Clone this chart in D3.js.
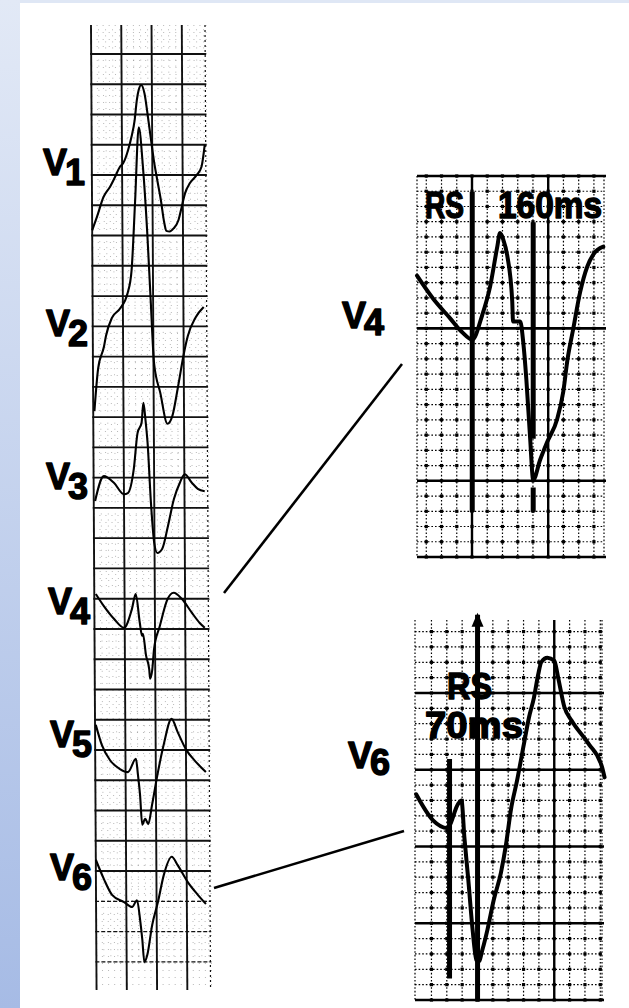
<!DOCTYPE html>
<html>
<head>
<meta charset="utf-8">
<script src="https://cdn.jsdelivr.net/npm/d3@7"></script>
<style>
  html, body { margin: 0; padding: 0; background: #fff; }
  svg { display: block; }
</style>
</head>
<body>
<svg id="chart" width="629" height="1008"></svg>
<script>
// ---- data: time in ms, amplitude in mV ----
const leadNames = ["V1", "V2", "V3", "V4", "V5", "V6"];

const traceV1 = [[0,-0.50],[32,-0.28],[76,0.05],[120,0.22],[153,0.38],[186,0.55],[208,0.61],[241,0.83],[263,1.04],[285,1.32],[300,1.65],[313,1.82],[329,1.90],[351,1.76],[373,1.37],[395,0.94],[410,0.66],[432,0.33],[455,0.00],[477,-0.38],[490,-0.51],[512,-0.52],[538,-0.47],[571,-0.33],[593,-0.11],[615,0.11],[648,0.28],[692,0.41],[725,0.55],[747,0.91]];
const traceV2 = [[8,-1.24],[34,-0.54],[74,-0.17],[87,0],[127,0.30],[180,0.45],[232,0.71],[259,1.09],[285,2.24],[312,3.45],[338,2.79],[364,1.70],[384,0.59],[404,-0.45],[444,-0.94],[490,-1.45],[523,-1.32],[562,-0.83],[602,-0.28],[628,0],[681,0.31],[734,0.48]];
const traceV3 = [[9,-0.18],[68,0.23],[134,0.12],[200,-0.07],[226,-0.05],[266,0.35],[292,0.94],[319,1.11],[332,1.44],[345,1.16],[358,0.78],[378,-0.21],[398,-0.87],[418,-1.04],[451,-0.97],[490,-0.59],[530,-0.15],[570,0.12],[602,0.26],[649,0.12],[688,0.02],[734,-0.02]];
const traceV4 = [[10,0.10],[63,-0.10],[129,-0.31],[195,-0.46],[248,-0.15],[274,0.10],[300,-0.38],[314,-0.59],[320,-0.56],[340,-0.92],[360,-1.14],[366,-1.30],[380,-1.16],[393,-0.81],[432,-0.43],[485,0.02],[525,0.12],[578,0.02],[644,-0.21],[696,-0.38],[729,-0.46]];
const traceV5 = [[5,0.58],[44,0.25],[97,0],[163,-0.15],[216,-0.20],[269,0.02],[282,-0.25],[295,-0.58],[308,-1.07],[328,-0.97],[348,-1.06],[374,-0.74],[414,-0.20],[453,0.25],[506,0.68],[546,0.46],[599,0.18],[665,-0.03],[731,-0.20]];
const traceV6 = [[0,0.50],[53,0.18],[106,-0.08],[185,-0.20],[238,-0.28],[271,-0.17],[290,-0.48],[304,-0.81],[317,-1.19],[337,-1.07],[370,-0.58],[409,-0.20],[449,0.25],[502,0.55],[541,0.41],[607,0.13],[673,-0.08],[726,-0.23]];

// magnified beats
const zoomV4 = [[0,0.35],[42,0.20],[87,0.07],[118,-0.02],[145,-0.07],[171,0.09],[192,0.28],[210,0.53],[218,0.63],[226,0.59],[237,0.48],[250,0.18],[252,0.05],[263,0.05],[271,0.05],[279,-0.09],[287,-0.33],[297,-0.72],[305,-0.99],[323,-0.86],[342,-0.74],[368,-0.59],[384,-0.41],[395,-0.20],[410,0],[428,0.24],[447,0.41],[463,0.49],[489,0.54]];
const zoomV6 = [[3,0.35],[47,0.18],[84,0.13],[113,0.29],[121,0.31],[129,0.06],[139,-0.21],[150,-0.53],[160,-0.73],[166,-0.74],[176,-0.66],[189,-0.53],[205,-0.34],[224,-0.16],[237,0.02],[250,0.25],[266,0.44],[284,0.68],[297,0.85],[310,0.98],[321,1.13],[329,1.21],[345,1.24],[363,1.22],[373,1.11],[389,0.92],[408,0.83],[452,0.68],[487,0.53],[494,0.46]];

// R-S interval markers: [time ms, top mV, bottom mV]
const rsMarksV4 = [[145, 0.90, -1.20], [305, 0.70, -0.72], [305, -1.04, -1.20]];
const rsMarksV6 = [[90, 0.58, -0.85], [163, 1.52, -1.00]];
const rsTextV4 = ["RS", "160ms"];
const rsTextV6 = ["RS", "70ms"];

// ---- layout ----
const svg = d3.select("#chart");
const W = 629, H = 1008;
const FONT = "'Liberation Sans', Arial, Helvetica, sans-serif";

const defs = svg.append("defs");
const grad = defs.append("linearGradient").attr("id", "edge")
  .attr("x1", 0).attr("y1", 0).attr("x2", 0).attr("y2", 1);
grad.append("stop").attr("offset", "0%").attr("stop-color", "#e2e9f6");
grad.append("stop").attr("offset", "100%").attr("stop-color", "#a6bbe5");

svg.append("rect").attr("width", W).attr("height", H).attr("fill", "#fff");
svg.append("rect").attr("width", W).attr("height", 3).attr("fill", "#dfe7f5");
svg.append("rect").attr("width", 20).attr("height", H).attr("fill", "url(#edge)");

// ---- left strip ----
const box = 30.26;
const stripTop = 25, stripBottom = 990, stripLeft = 91, stripRight = 206;
const baselines = [200, 336, 490, 600, 760, 890];
const traces = [traceV1, traceV2, traceV3, traceV4, traceV5, traceV6];

// the paper strip leans slightly to the right
const strip = svg.append("g")
  .attr("transform", `translate(0,${stripTop}) skewX(0.33) translate(0,${-stripTop})`);

const xL = d3.scaleLinear().domain([0, 200]).range([stripLeft, stripLeft + box]);

const gridL = strip.append("g");
// minor dotted lines
const minorXs = d3.range(stripLeft + box / 5, stripRight, box / 5);
gridL.selectAll(".mvx").data(minorXs).join("line")
  .attr("x1", d => d).attr("x2", d => d).attr("y1", stripTop).attr("y2", stripBottom)
  .attr("stroke", "#000").attr("stroke-width", 0.9).attr("stroke-dasharray", "1,6")
  .attr("opacity", 0.3);
const minorYs = d3.range(54 - box, 965, box / 5).filter(y => y > stripTop);
gridL.selectAll(".mhy").data(minorYs).join("line")
  .attr("x1", stripLeft).attr("x2", stripRight).attr("y1", d => d).attr("y2", d => d)
  .attr("stroke", "#000").attr("stroke-width", 0.9).attr("stroke-dasharray", "1,6")
  .attr("opacity", 0.3);
// major lines
const majorYs = d3.range(54, 965, box);
gridL.selectAll(".hy").data(majorYs).join("line")
  .attr("x1", stripLeft - 1).attr("x2", stripRight).attr("y1", d => d).attr("y2", d => d)
  .attr("stroke", "#111").attr("stroke-width", d => d > 900 ? 1.3 : 1.9)
  .attr("stroke-dasharray", d => d > 900 ? "4,2" : null);
const majorXs = d3.range(0, 4).map(i => stripLeft + i * box);
gridL.selectAll(".vx").data(majorXs).join("line")
  .attr("x1", d => d).attr("x2", d => d).attr("y1", stripTop).attr("y2", stripBottom)
  .attr("stroke", "#111").attr("stroke-width", 1.9);
gridL.append("line")
  .attr("x1", stripRight - 1).attr("x2", stripRight - 1).attr("y1", stripTop).attr("y2", stripBottom)
  .attr("stroke", "#111").attr("stroke-width", 1.2).attr("stroke-dasharray", "2,3");

traces.forEach((tr, i) => {
  const y = d3.scaleLinear().domain([0, 0.5]).range([baselines[i], baselines[i] - box]);
  const line = d3.line().x(d => xL(d[0])).y(d => y(d[1])).curve(d3.curveMonotoneX);
  strip.append("path").datum(tr).attr("d", line)
    .attr("fill", "none").attr("stroke", "#000").attr("stroke-width", 2.1)
    .attr("stroke-linejoin", "round");
});

// lead labels (heavy print face)
const leftLabelPos = [[43, 175], [46, 336], [46, 489], [48, 614], [50, 747], [50, 880]];
function leadLabel(name, pos, drop) {
  const t = svg.append("text").attr("x", pos[0]).attr("y", pos[1])
    .attr("font-family", FONT).attr("font-weight", "bold").attr("font-size", 36)
    .attr("fill", "#000").attr("stroke", "#000").attr("stroke-width", 1.4)
    .attr("stroke-linejoin", "round");
  t.append("tspan").text(name[0]);
  t.append("tspan").attr("dx", -2).attr("dy", drop).text(name.slice(1));
}
leadNames.forEach((n, i) => leadLabel(n, leftLabelPos[i], 10));

// ---- magnified panels ----
function panel(cfg) {
  const g = svg.append("g");
  const s = cfg.step;
  const xs = d3.range(cfg.vRef - s * 10, cfg.x1 + 0.5, s).filter(x => x >= cfg.x0 + 4);
  const ys = d3.range(cfg.hRef - s * 30, cfg.y1 + 0.5, s).filter(y => y >= cfg.y0 - 0.5);
  const isMajX = x => Math.abs(((x - cfg.vRef) / s) % 5) < 0.01;
  const isMajY = y => Math.abs(((y - cfg.hRef) / s) % 5) < 0.01;

  // minor dotted lines
  g.selectAll(".mx").data(xs.filter(x => !isMajX(x)).concat([cfg.x0, cfg.x1])).join("line")
    .attr("x1", d => d).attr("x2", d => d).attr("y1", cfg.y0).attr("y2", cfg.y1)
    .attr("stroke", "#000").attr("stroke-width", 1.2).attr("stroke-dasharray", "1.6,2");
  g.selectAll(".my").data(ys.filter(y => !isMajY(y))).join("line")
    .attr("x1", cfg.x0).attr("x2", cfg.x1).attr("y1", d => d).attr("y2", d => d)
    .attr("stroke", "#000").attr("stroke-width", 1.2).attr("stroke-dasharray", "1.6,2");
  // dots at crossings
  const dots = [];
  xs.forEach(x => ys.forEach(y => dots.push([x, y])));
  g.selectAll(".dot").data(dots).join("rect")
    .attr("x", d => d[0] - 1.6).attr("y", d => d[1] - 1.6)
    .attr("width", 3.2).attr("height", 3.2).attr("fill", "#000");
  // major lines
  g.selectAll(".Mx").data(xs.filter(isMajX)).join("line")
    .attr("x1", d => d).attr("x2", d => d).attr("y1", cfg.y0).attr("y2", cfg.y1)
    .attr("stroke", "#000").attr("stroke-width", 2.4);
  g.selectAll(".My").data(ys.filter(isMajY).filter(y => y > cfg.y0 + 2 || cfg.topBorder)).join("line")
    .attr("x1", cfg.x0).attr("x2", cfg.x1 + 2).attr("y1", d => d).attr("y2", d => d)
    .attr("stroke", "#000").attr("stroke-width", 2.6);
  return g;
}

function drawBeat(cfg, data, marks, texts, textPos) {
  const x = d3.scaleLinear().domain([0, 200]).range([cfg.x0, cfg.x0 + cfg.step * 5]);
  const y = d3.scaleLinear().domain([0, 0.5]).range([cfg.base, cfg.base - cfg.step * 5]);
  svg.selectAll(null).data(marks).join("line")
    .attr("x1", d => x(d[0])).attr("x2", d => x(d[0]))
    .attr("y1", d => y(d[1])).attr("y2", d => y(d[2]))
    .attr("stroke", "#000").attr("stroke-width", 5);
  const line = d3.line().x(d => x(d[0])).y(d => y(d[1])).curve(d3.curveMonotoneX);
  svg.append("path").datum(data).attr("d", line)
    .attr("fill", "none").attr("stroke", "#000").attr("stroke-width", 4)
    .attr("stroke-linejoin", "round").attr("stroke-linecap", "round");
  texts.forEach((t, i) => {
    svg.append("text").attr("x", textPos[i][0]).attr("y", textPos[i][1])
      .attr("font-family", FONT).attr("font-weight", "bold").attr("font-size", 36)
      .attr("textLength", textPos[i][2]).attr("lengthAdjust", "spacingAndGlyphs")
      .attr("fill", "#000").attr("stroke", "#000").attr("stroke-width", 1.4)
      .attr("stroke-linejoin", "round").text(t);
  });
  return { x, y };
}

const topCfg = { x0: 417, x1: 604, y0: 176, y1: 557, vRef: 472, hRef: 176, step: 15.24, base: 329, topBorder: true };
panel(topCfg);
drawBeat(topCfg, zoomV4, rsMarksV4, rsTextV4, [[425, 218, 39], [498, 218, 104]]);

const botCfg = { x0: 415, x1: 602, y0: 620, y1: 1000, vRef: 477.5, hRef: 1000, step: 15.35, base: 848, topBorder: false };
panel(botCfg);
const bs = drawBeat(botCfg, zoomV6, rsMarksV6, rsTextV6, [[447, 699, 45], [425, 738, 98]]);
// arrow tip on the second V6 marker
const tipX = bs.x(rsMarksV6[1][0]), tipY = bs.y(rsMarksV6[1][1]);
svg.append("path")
  .attr("d", `M${tipX - 6},${tipY + 12} L${tipX},${tipY - 2} L${tipX + 6},${tipY + 12} Z`)
  .attr("fill", "#000");

// right-hand lead labels
leadLabel("V4", [342, 328], 7);
leadLabel("V6", [348, 768], 7);

// connector lines from strip to magnified beats
const connectors = [[224, 593, 402, 364], [214, 888, 404, 831]];
svg.selectAll(".conn").data(connectors).join("line")
  .attr("x1", d => d[0]).attr("y1", d => d[1]).attr("x2", d => d[2]).attr("y2", d => d[3])
  .attr("stroke", "#000").attr("stroke-width", 2.6);
</script>
</body>
</html>
